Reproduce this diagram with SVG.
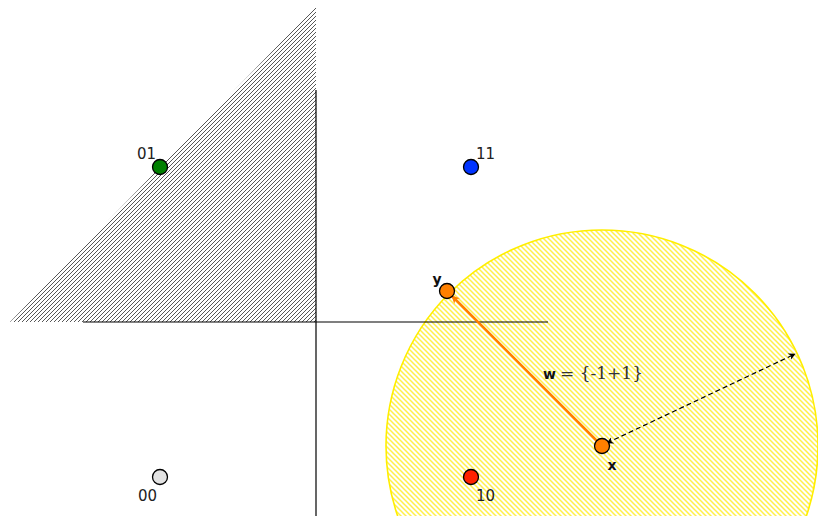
<svg xmlns="http://www.w3.org/2000/svg" width="818" height="516" viewBox="0 0 818 516">
<style>
.node{stroke:#000;stroke-width:1.3}
.lbl{font-family:"DejaVu Sans",sans-serif;font-size:15px;fill:#222}
.bold{font-family:"DejaVu Sans",sans-serif;font-size:14px;font-weight:bold;fill:#111}
.math{font-family:"DejaVu Serif","Liberation Serif",serif;font-size:17px;fill:#333}
.axis{stroke:#000;stroke-width:1.2;fill:none}
</style>
<defs>
<pattern id="hatchK" patternUnits="userSpaceOnUse" width="4" height="4">
<path d="M-1,1 L1,-1 M0,4 L4,0 M3,5 L5,3" stroke="#444" stroke-width="0.9"/>
</pattern>
<pattern id="hatchY" patternUnits="userSpaceOnUse" width="5" height="5">
<rect width="5" height="5" fill="#ffffff"/>
<path d="M-1,4 L1,6 M0,0 L5,5 M4,-1 L6,1" stroke="#fff04a" stroke-width="1.5"/>
</pattern>
<marker id="ah" viewBox="0 0 10 10" refX="9" refY="5" markerWidth="7" markerHeight="7" orient="auto-start-reverse" markerUnits="userSpaceOnUse">
<path d="M0,0 L10,5 L0,10 L3,5 Z" fill="#000"/>
</marker>
<marker id="ahO" viewBox="0 0 10 10" refX="9" refY="5" markerWidth="8" markerHeight="8" orient="auto" markerUnits="userSpaceOnUse">
<path d="M0,0 L10,5 L0,10 L3,5 Z" fill="#ff8000"/>
</marker>
</defs>
<g id="regions">
<polygon points="10,322 316,6 316,322" fill="url(#hatchK)"/>
<circle cx="602" cy="446" r="216" fill="url(#hatchY)" stroke="#ffee00" stroke-width="1.6"/>
</g>
<g id="axes">
<line class="axis" x1="316" y1="90" x2="316" y2="516"/>
<line class="axis" x1="83" y1="322" x2="548" y2="322"/>
</g>
<g id="connectors">
<line x1="602" y1="446" x2="452" y2="296" stroke="#ff8000" stroke-width="2.5" marker-end="url(#ahO)"/>
<line x1="607" y1="443" x2="795" y2="354" stroke="#000" stroke-width="1.2" stroke-dasharray="5,3" marker-start="url(#ah)" marker-end="url(#ah)"/>
<text x="543" y="379" class="bold">w</text>
<text x="560" y="379" class="math" textLength="83">= {-1+1}</text>
</g>
<g id="n01"><circle class="node" cx="160" cy="167" r="7.5" fill="#008000"/><text class="lbl" x="156" y="159" text-anchor="end">01</text></g>
<g id="n11"><circle class="node" cx="471" cy="167" r="7.5" fill="#0033ff"/><text class="lbl" x="476" y="159">11</text></g>
<g id="n00"><circle class="node" cx="160" cy="477" r="7.5" fill="#e3e3e3"/><text class="lbl" x="157" y="501" text-anchor="end">00</text></g>
<g id="n10"><circle class="node" cx="471" cy="477" r="7.5" fill="#ff2200"/><text class="lbl" x="476" y="501">10</text></g>
<g id="ny"><circle class="node" cx="447" cy="291" r="7.5" fill="#ff8000"/><text class="bold" x="437" y="284" text-anchor="middle">y</text></g>
<g id="nx"><circle class="node" cx="602" cy="446" r="7.5" fill="#ff8000"/><text class="bold" x="612" y="470" text-anchor="middle">x</text></g>
</svg>
